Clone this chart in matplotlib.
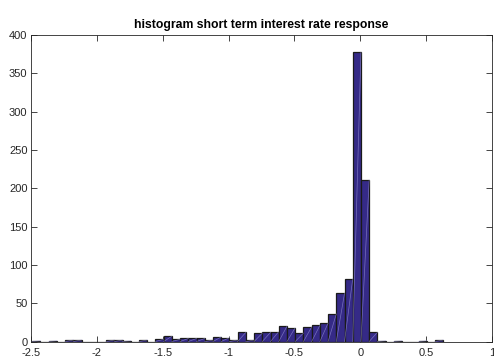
import matplotlib
matplotlib.use("Agg")
import matplotlib.pyplot as plt
import numpy as np

# histogram of short term interest rate responses (50 equal bins over data range)
data_min = -2.491
data_max = 0.629
counts = [1, 0, 1, 0, 2, 2, 0, 0, 0, 2,
          2, 1, 0, 2, 0, 3, 7, 3, 4, 4,
          4, 2, 6, 5, 2, 12, 2, 11, 12, 13,
          20, 18, 11, 19, 21, 24, 36, 63, 82, 378,
          211, 12, 1, 0, 1, 0, 0, 1, 0, 2]

xticks = [-2.5, -2, -1.5, -1, -0.5, 0, 0.5, 1]
xtick_labels = ["-2.5", "-2", "-1.5", "-1", "-0.5", "0", "0.5", "1"]
yticks = [0, 50, 100, 150, 200, 250, 300, 350, 400]

plt.rcParams['font.family'] = ['Liberation Sans', 'DejaVu Sans']
plt.rcParams['axes.unicode_minus'] = False

edges = np.linspace(data_min, data_max, len(counts) + 1)
lefts = edges[:-1]
widths = np.diff(edges)

fig = plt.figure(figsize=(4.94, 3.59), dpi=100)
ax = fig.add_axes([0.0628, 0.0487, 0.9332, 0.8538])

face = (0.2081, 0.1663, 0.5292)
ax.bar(lefts, counts, width=widths, align='edge', color=face,
       edgecolor='#1a1a1a', linewidth=0.9, zorder=2)

# faint diagonal seam inside each patch
for x0, wd, c in zip(lefts, widths, counts):
    if c > 0:
        ax.plot([x0, x0 + wd], [0, c], color='#a29ee0', linewidth=0.5,
                alpha=0.6, zorder=3)

ax.set_xlim(-2.5, 1)
ax.set_ylim(0, 400)
ax.set_xticks(xticks)
ax.set_xticklabels(xtick_labels)
ax.set_yticks(yticks)
ax.tick_params(direction='in', length=4, width=0.6, top=True, right=True,
               labelsize=8, colors='#262626')
ax.tick_params(axis='x', pad=4.5)
ax.tick_params(axis='y', pad=2.5)
for sp in ax.spines.values():
    sp.set_linewidth(0.6)
    sp.set_color('#262626')

ax.set_title("histogram short term interest rate response",
             fontsize=8.8, fontweight='bold', pad=5)

fig.savefig("out.png", dpi=100)
